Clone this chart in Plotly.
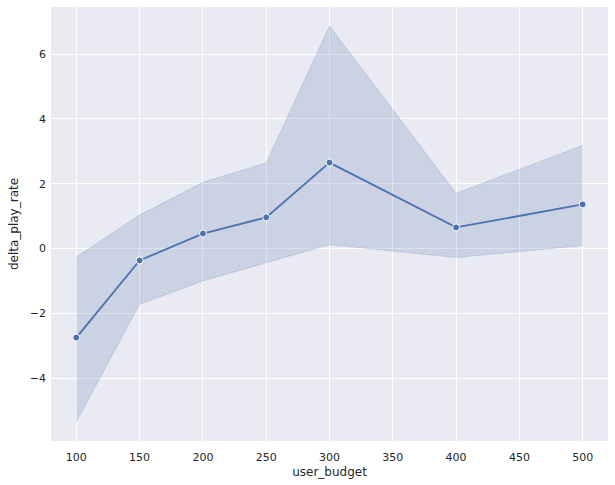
import plotly.graph_objects as go

user_budget = [100, 150, 200, 250, 300, 400, 500]
mean_rate = [-2.75, -0.37, 0.46, 0.96, 2.65, 0.65, 1.36]
ci_upper = [-0.26, 1.03, 2.04, 2.64, 6.86, 1.70, 3.18]
ci_lower = [-5.35, -1.72, -1.00, -0.44, 0.12, -0.28, 0.09]

x_ticks = [100, 150, 200, 250, 300, 350, 400, 450, 500]
y_ticks = [-4, -2, 0, 2, 4, 6]

blue = "#4C72B0"
fig = go.Figure()
fig.add_trace(go.Scatter(x=user_budget, y=ci_upper, mode="lines",
                         line=dict(width=0.8, color="rgba(76,114,176,0.25)"),
                         showlegend=False, hoverinfo="skip"))
fig.add_trace(go.Scatter(x=user_budget, y=ci_lower, mode="lines",
                         line=dict(width=0.8, color="rgba(76,114,176,0.25)"),
                         fill="tonexty", fillcolor="rgba(76,114,176,0.2)",
                         showlegend=False, hoverinfo="skip"))
fig.add_trace(go.Scatter(x=user_budget, y=mean_rate, mode="lines+markers",
                         line=dict(width=1.8, color=blue),
                         marker=dict(size=7, color=blue, line=dict(width=1, color="white")),
                         showlegend=False))

font = dict(family="DejaVu Sans", size=11, color="#262626")
fig.update_layout(
    width=615, height=485,
    margin=dict(l=51, r=7, t=7, b=44, autoexpand=False),
    paper_bgcolor="white", plot_bgcolor="#EAEAF2",
    font=font,
)
fig.update_xaxes(range=[80, 520], tickvals=x_ticks, showgrid=True, gridcolor="white",
                 gridwidth=1, zeroline=False, showline=False, ticks="", automargin=False,
                 ticklabelstandoff=8,
                 title=dict(text="user_budget", font=dict(size=12, color="#262626"), standoff=4),
                 tickfont=font)
fig.update_yaxes(range=[-5.94, 7.45], tickvals=y_ticks, showgrid=True, gridcolor="white",
                 gridwidth=1, zeroline=False, showline=False, ticks="", automargin=False,
                 ticklabelstandoff=4,
                 title=dict(text="delta_play_rate", font=dict(size=12, color="#262626"), standoff=8),
                 tickfont=font)
fig.write_html("out.html", config={"displayModeBar": False},
               post_script="document.body.style.margin='0';")
